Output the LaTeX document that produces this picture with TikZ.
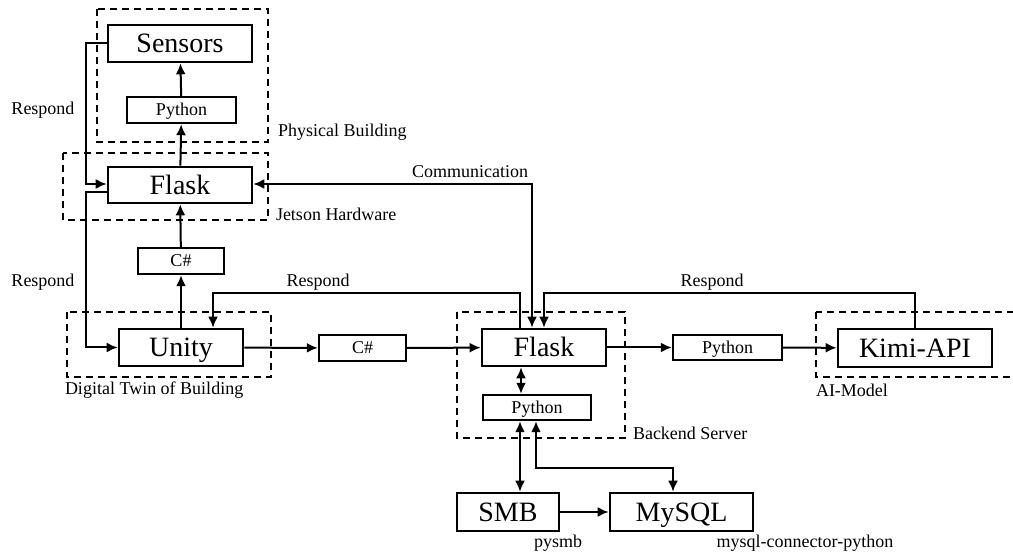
\documentclass[tikz,border=0pt]{standalone}
\usepackage{fontspec}
\setmainfont{Liberation Serif}
\usetikzlibrary{arrows.meta}

\tikzstyle{bigbox}=[draw,line width=2.6pt,rectangle,inner sep=0pt,text height=18.5pt,text depth=0pt,font=\fontsize{28}{28}\selectfont]
\tikzstyle{smallbox}=[draw,line width=2.4pt,rectangle,inner sep=0pt,text height=12pt,text depth=0pt,font=\fontsize{18}{18}\selectfont]
\tikzstyle{group}=[draw,line width=2pt,dash pattern=on 7pt off 5pt]
\tikzstyle{lbl}=[inner sep=0pt,font=\fontsize{18}{18}\selectfont]

\begin{document}
\begin{tikzpicture}[x=1pt,y=-1pt]
			\useasboundingbox (0,0) rectangle (1013,556);
			\begin{scope}[>={Latex[length=11pt,width=10pt]},line width=2pt]
				% dashed groups
				\draw[group] (97,9) rectangle (268,142);
				\draw[group] (63,153) rectangle (268,220);
				\draw[group] (67,312) rectangle (271,377);
				\draw[group] (457,312) rectangle (625,438);
				\draw[group] (816,312) rectangle (1030,377);
				
				\node (Sensors)[bigbox,minimum width=144pt,minimum height=37pt] at (180,43.5) {Sensors};
				\node (PyT)[smallbox,minimum width=109pt,minimum height=26pt] at (181.5,110) {Python};
				\node (FlaskJ)[bigbox,minimum width=144pt,minimum height=36pt] at (180,185) {Flask};
				\node (CsM)[smallbox,minimum width=86pt,minimum height=26pt] at (181,261) {C\#};
				\node (Unity)[bigbox,minimum width=124pt,minimum height=37pt] at (181,347.5) {Unity};
				\node (CsL)[smallbox,minimum width=87pt,minimum height=26pt] at (362.5,348) {C\#};
				\node (FlaskB)[bigbox,minimum width=124pt,minimum height=37pt] at (544,347.5) {Flask};
				\node (PyB)[smallbox,minimum width=108pt,minimum height=25pt] at (537,407.5) {Python};
				\node (PyR)[smallbox,minimum width=109pt,minimum height=25pt] at (727.5,347.5) {Python};
				\node (Kimi)[bigbox,minimum width=154pt,minimum height=38pt] at (915,348) {Kimi-API};
				\node (SMB)[bigbox,minimum width=102pt,minimum height=38pt] at (508,512) {SMB};
				\node (MySQL)[bigbox,minimum width=143pt,minimum height=38pt] at (681.5,512) {MySQL};
				
				% labels
				\node (lPB)[lbl,anchor=west] at (277,132) {Physical Building};
				\node (lJH)[lbl,anchor=west] at (275,214) {Jetson Hardware};
				\node (lDT)[lbl,anchor=west] at (64,390) {Digital Twin of Building};
				\node (lBS)[lbl,anchor=west] at (632,433) {Backend Server};
				\node (lAI)[lbl,anchor=west] at (815,390) {AI-Model};
				\node (lR1)[lbl] at (43,110) {Respond};
				\node (lR2)[lbl] at (43,282) {Respond};
				\node (lR3)[lbl] at (318,282) {Respond};
				\node (lR4)[lbl] at (712,282) {Respond};
				\node (lCom)[lbl] at (470,172) {Communication};
				\node (lSMB)[lbl] at (558,543) {pysmb};
				\node (lSQL)[lbl] at (805,543) {mysql-connector-python};
				
				\draw[->] (PyT) -- (Sensors);
				\draw[->] (FlaskJ) -- (PyT);
				\draw[->] (CsM) -- (FlaskJ);
				\draw[->] (Unity) -- (CsM);
				\draw[->] (Sensors.west) -- ++(-21,0) |- ([yshift=1pt]FlaskJ.west);
				\draw[->] ([yshift=-7pt]FlaskJ.west) -- ++(-21,0) |- (Unity.west);
				\draw[<->] ([yshift=1pt]FlaskJ.east) -| ([xshift=-12pt]FlaskB.north);
				\draw[->] ([xshift=-24pt]FlaskB.north) -- ++(0,-35) -| ([xshift=32pt]Unity.north);
				\draw[->] (Kimi.north) -- ++(0,-35) -| (FlaskB.north);
				\draw[->] (Unity) -- (CsL);
				\draw[->] (CsL) -- (FlaskB);
				\draw[->] (FlaskB) -- (PyR);
				\draw[->] (PyR) -- (Kimi);
				\draw[<->] ([xshift=-23pt]FlaskB.south) -- ([xshift=-16pt]PyB.north);
				\draw[<->] ([xshift=-17pt]PyB.south) -- ([xshift=12pt]SMB.north);
				\draw[<->] ([xshift=-1pt]PyB.south) -- ++(0,47) -| ([xshift=-8.5pt]MySQL.north);
				\draw[->] (SMB) -- (MySQL);
			\end{scope}
		\end{tikzpicture}
\end{document}
